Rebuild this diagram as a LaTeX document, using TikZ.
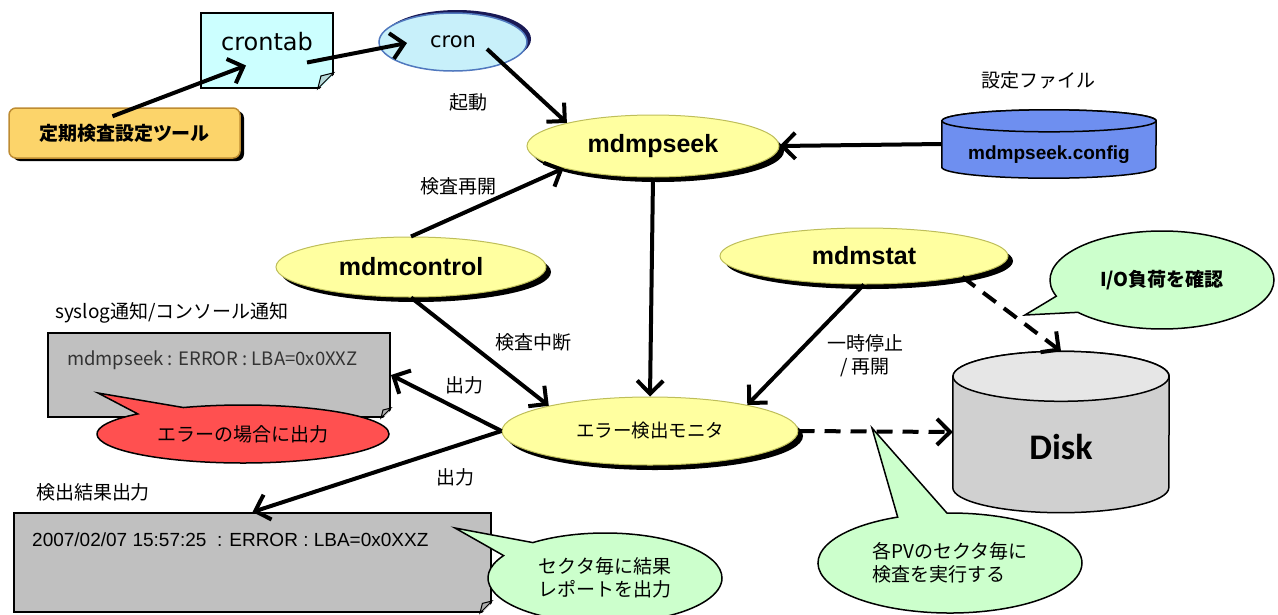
\documentclass[tikz,border=0pt]{standalone}
\usepackage{fontspec}
\usepackage{xcolor}
\setmainfont{Liberation Sans}
\newfontfamily\jp{Noto Sans CJK JP}
\newfontfamily\vd{DejaVu Sans}
\newfontfamily\dsk{Carlito}
\usetikzlibrary{shapes.geometric, shapes.callouts, shadows, arrows.meta}

\definecolor{procyellow}{RGB}{255,255,160}
\definecolor{procedge}{RGB}{190,190,90}
\definecolor{toolorange}{RGB}{252,212,106}
\definecolor{tooledge}{RGB}{190,140,50}
\definecolor{memocyan}{RGB}{204,255,255}
\definecolor{croncyan}{RGB}{200,240,250}
\definecolor{cronedge}{RGB}{80,120,190}
\definecolor{cronshade}{RGB}{25,25,85}
\definecolor{storeblue}{RGB}{110,143,240}
\definecolor{papergray}{RGB}{192,192,192}
\definecolor{diskgray}{RGB}{208,208,208}
\definecolor{disktop}{RGB}{230,230,230}
\definecolor{bubblegreen}{RGB}{204,255,204}
\definecolor{alertred}{RGB}{255,80,80}

\begin{document}
\begin{tikzpicture}[x=1pt, y=-1pt, font=\jp\fontsize{19}{23}\selectfont]
	\tikzstyle{proc}=[ellipse, draw=procedge, line width=1pt, fill=procyellow, inner sep=0pt, font=\normalfont\bfseries\fontsize{25}{30}\selectfont, drop shadow={shadow xshift=5pt, shadow yshift=-5pt, fill=black, opacity=1}]
	\tikzstyle{flow}=[line width=4pt, -{Straight Barb[length=13pt, width=26pt]}]
	\tikzstyle{flowdash}=[flow, dash pattern=on 16pt off 10pt]
	\tikzstyle{bubble}=[ellipse callout, draw=black, line width=1.5pt, fill=bubblegreen, inner sep=0pt, align=center, callout pointer arc=22]
	\tikzstyle{paper}=[rectangle, draw=black, line width=2pt, fill=papergray, inner sep=0pt]
	\tikzstyle{memo}=[rectangle, draw=black, line width=1.5pt, fill=memocyan, inner sep=0pt, font=\vd\fontsize{24}{28}\selectfont]
	\tikzstyle{drum}=[rectangle, inner sep=0pt]
	\useasboundingbox (0,0) rectangle (1278,614);

	\node[rectangle, rounded corners=7pt, draw=tooledge, line width=1.5pt, fill=toolorange, minimum width=231pt, minimum height=50pt, font=\jp\bfseries\fontsize{19}{23}\selectfont, drop shadow={shadow xshift=4pt, shadow yshift=-3pt, fill=black, opacity=1}] (tool) at (124.5,133) {定期検査設定ツール};
	\node[memo, minimum width=132pt, minimum height=75pt, text depth=18pt] (crontab) at (267,50.5) {crontab};
	\node[ellipse, draw=cronedge, line width=1.5pt, fill=croncyan, minimum width=148pt, minimum height=58pt, inner sep=0pt, font=\vd\fontsize{21}{25}\selectfont, drop shadow={shadow xshift=4pt, shadow yshift=3pt, fill=cronshade, opacity=1}] (cron) at (453,42) {cron};

	\node[proc, minimum width=252pt, minimum height=62pt] (seek) at (653,146) {mdmpseek};
	\node[proc, minimum width=270pt, minimum height=60pt] (control) at (411,267) {mdmcontrol};
	\node[proc, minimum width=288pt, minimum height=56pt] (stat) at (864,256) {mdmstat};
	\node[proc, minimum width=296pt, minimum height=68pt, font=\jp\fontsize{18.5}{22}\selectfont] (monitor) at (650,431) {エラー検出モニタ};

	\node[drum, minimum width=214pt, minimum height=68pt] (config) at (1049,144) {};
	\node[drum, minimum width=216pt, minimum height=161pt] (disk) at (1061,432) {};
	\foreach \n/\r/\w/\c/\e in {config/11/107/storeblue/storeblue, disk/25/108/diskgray/disktop}{
		\draw[line width=1.5pt, fill=\c] ([yshift=-\r pt]\n.north west) -- ([yshift=\r pt]\n.south west) arc[start angle=180, end angle=360, x radius=\w pt, y radius=\r pt] -- ([yshift=-\r pt]\n.north east) arc[start angle=0, end angle=180, x radius=\w pt, y radius=\r pt] -- cycle;
		\draw[line width=1.5pt, fill=\e] ([yshift=-\r pt]\n.north) ellipse[x radius=\w pt, y radius=\r pt];
	}
	\node[font=\normalfont\bfseries\fontsize{19}{23}\selectfont, inner sep=0pt] (configtxt) at ([yshift=-11pt]config.center) {mdmpseek.config};
	\node[font=\dsk\bfseries\fontsize{36}{40}\selectfont, inner sep=0pt] (disktxt) at ([yshift=-15pt]disk.center) {Disk};

	\node[paper, minimum width=342pt, minimum height=84pt] (syslog) at (219,375) {};
	\node[anchor=west, font=\jp\fontsize{18.5}{22}\selectfont, text=black!80, inner sep=0pt] (syslogtxt) at (67,360) {mdmpseek : ERROR : LBA=0x0XXZ};
	\node[paper, minimum width=477pt, minimum height=99pt] (result) at (252.5,562.5) {};
	\node[anchor=west, font=\normalfont\fontsize{19}{23}\selectfont, inner sep=0pt] (resulttxt) at (32,540) {2007/02/07 15:57:25\ \ : ERROR : LBA=0x0XXZ};
	\foreach \n/\s/\c in {crontab/16/memocyan, syslog/10/papergray, result/12/papergray}{
		\fill[white] ([xshift=-\s pt, yshift=-2pt]\n.south east) -- ([xshift=2pt, yshift=\s pt]\n.south east) -- ([xshift=2pt, yshift=-2pt]\n.south east) -- cycle;
		\draw[line width=1pt, fill=\c!70!gray] ([xshift=-\s pt]\n.south east) -- ([yshift=\s pt]\n.south east) -- ([xshift=-0.8*\s pt, yshift=0.8*\s pt]\n.south east) -- cycle;
	}

	\node (lbstart) at (468,102) {起動};
	\node (lbresume) at (458,186) {検査再開};
	\node (lbstop) at (533,342) {検査中断};
	\node (lbout1) at (464,385) {出力};
	\node (lbout2) at (455,477) {出力};
	\node[align=center] (lbpause) at (865,356) {一時停止\\ / 再開};
	\node (lbconf) at (1038,80) {設定ファイル};
	\node (lbsys) at (172,313) {syslog通知/コンソール通知};
	\node (lbres) at (93,492) {検出結果出力};

	\draw[flow] ([shift={(-12,9)}]tool.north) -- ([shift={(-21,15)}]crontab.center);
	\draw[flow] ([shift={(40,12)}]crontab.center) -- ([shift={(-46,1)}]cron.center);
	\draw[flow] ([shift={(34,7)}]cron.center) -- (seek.165);
	\draw[flow] (config.west) -- (seek.east);
	\draw[flow] (control.north) -- (seek.194);
	\draw[flow] (seek.south) -- (monitor.north);
	\draw[flow] (control.south) -- (monitor.166);
	\draw[flow] (stat.south) -- (monitor.15);
	\draw[flow] (monitor.west) -- (syslog.east);
	\draw[flow] (monitor.west) -- (result.north);
	\draw[flowdash] (monitor.east) -- (disk.west);
	\draw[flowdash] (stat.-12) -- (disk.north);

	\coordinate (iotip) at (1025,315);
	\coordinate (pvtip) at (872,428);
	\coordinate (restip) at (455,528);
	\coordinate (redtip) at (98,393);
	\node[bubble, minimum width=224pt, minimum height=98pt, callout absolute pointer={(iotip)}, font=\jp\bfseries\fontsize{19}{23}\selectfont] (iobub) at (1162,280) {I/O負荷を確認};
	\node[bubble, align=left, minimum width=264pt, minimum height=100pt, callout absolute pointer={(pvtip)}] (pvbub) at (950,563) {各PVのセクタ毎に\\検査を実行する};
	\node[bubble, minimum width=234pt, minimum height=90pt, callout absolute pointer={(restip)}] (resbub) at (605,578) {セクタ毎に結果\\レポートを出力};
	\node[bubble, fill=alertred, minimum width=292pt, minimum height=58pt, callout absolute pointer={(redtip)}] (alert) at (243,434) {エラーの場合に出力};
\end{tikzpicture}
\end{document}
